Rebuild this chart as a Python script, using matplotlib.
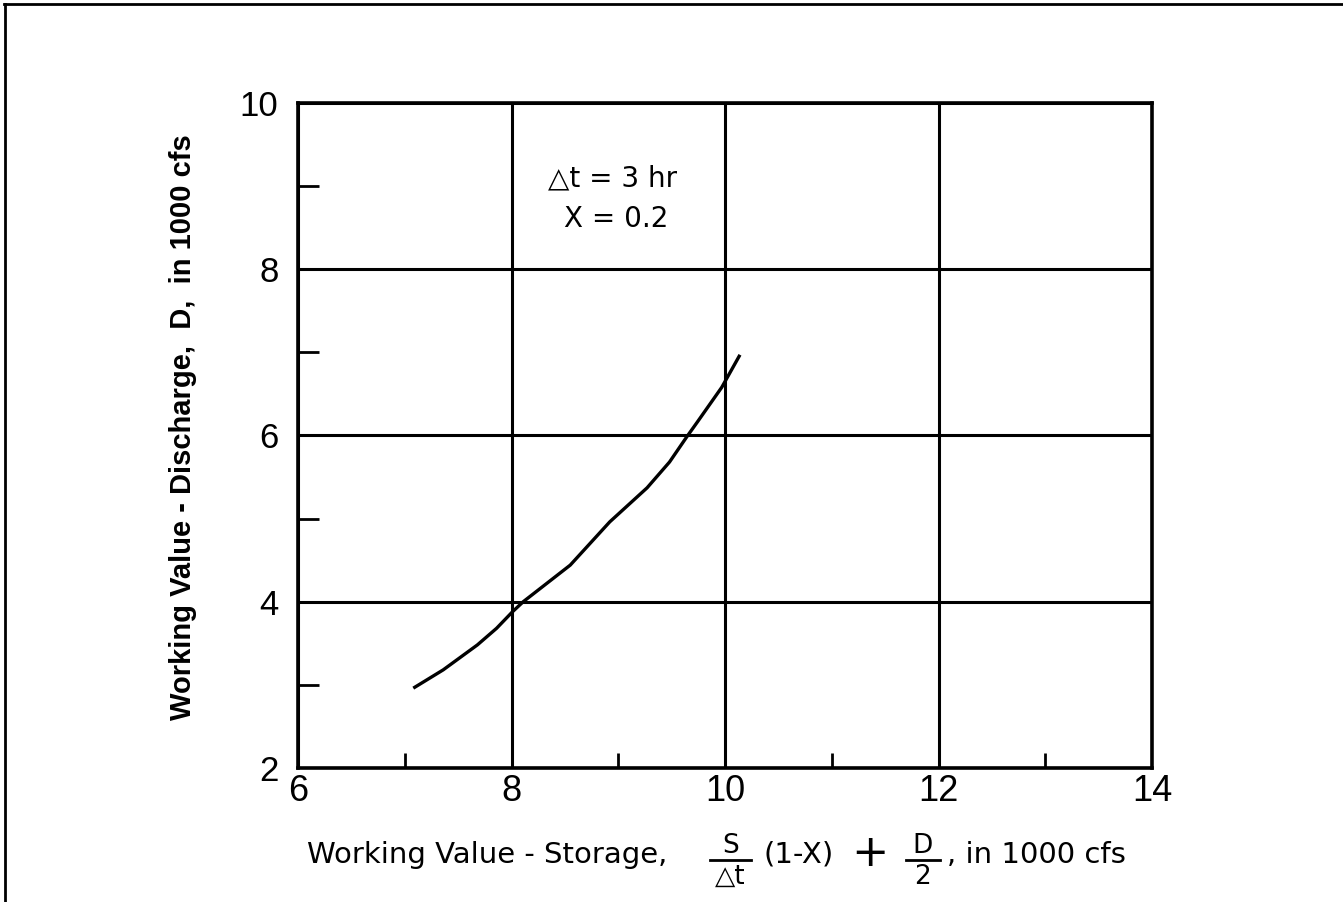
import matplotlib
matplotlib.use('Agg')
import matplotlib.pyplot as plt
from matplotlib.lines import Line2D
from matplotlib.ticker import MultipleLocator

# working-value curve (1000 cfs)
storage = [7.08, 7.36, 7.68, 7.86, 8.01, 8.11, 8.55, 8.92, 9.27, 9.48, 9.64, 9.74, 9.97, 10.14]
discharge = [2.96, 3.18, 3.48, 3.68, 3.88, 4.00, 4.44, 4.96, 5.37, 5.68, 5.98, 6.16, 6.58, 6.97]

x_ticks = [6, 8, 10, 12, 14]
y_ticks = [2, 4, 6, 8, 10]

note_lines = ['\u25b3t = 3 hr', 'X = 0.2']

sans = ['Liberation Sans', 'DejaVu Sans']
wide = ['DejaVu Sans']

fig = plt.figure(figsize=(13.43, 9.02), dpi=100)
ax = fig.add_axes([0.2219, 0.1486, 0.6359, 0.7373])

ax.plot(storage, discharge, color='black', linewidth=2.4, solid_capstyle='butt')

ax.set_xlim(6, 14)
ax.set_ylim(2, 10)
ax.set_xticks(x_ticks)
ax.set_yticks(y_ticks)
ax.xaxis.set_minor_locator(MultipleLocator(1))
ax.yaxis.set_minor_locator(MultipleLocator(1))
ax.grid(True, which='major', color='black', linewidth=2.2)
ax.set_axisbelow(False)

for s in ax.spines.values():
    s.set_linewidth(2.6)

ax.tick_params(which='major', length=0)
ax.tick_params(axis='x', which='major', pad=4)
ax.tick_params(axis='y', which='major', pad=14)
ax.tick_params(which='minor', direction='in', width=2, color='black')
ax.tick_params(axis='x', which='minor', length=11)
ax.tick_params(axis='y', which='minor', length=15)

for lab in ax.get_xticklabels():
    lab.set_family(sans)
    lab.set_fontsize(26)
for lab in ax.get_yticklabels():
    lab.set_family(sans)
    lab.set_fontsize(25)

ax.set_ylabel('Working Value - Discharge,  D,  in 1000 cfs', family=sans,
              fontsize=21, fontweight='bold')
ax.yaxis.set_label_coords(-0.118, 0.513)

# note in the upper left cell
ax.text(8.95, 9.09, note_lines[0], family=wide, fontsize=20, ha='center', va='center')
ax.text(8.98, 8.60, note_lines[1], family=wide, fontsize=20, ha='center', va='center')

# x label with fractions, placed in figure pixels
W, H = 1343.0, 902.0
def fx(px):
    return px / W
def fy(py):
    return 1 - py / H

lab_kw = dict(family=wide, fontsize=21, va='center')
frac_kw = dict(family=wide, fontsize=19, va='center', ha='center')
ymid = 855
fig.text(fx(307), fy(ymid), 'Working Value - Storage,', ha='left', **lab_kw)
fig.text(fx(731), fy(846), 'S', **frac_kw)
fig.add_artist(Line2D([fx(710), fx(751)], [fy(860), fy(860)], color='black', linewidth=2,
                      transform=fig.transFigure))
fig.text(fx(730), fy(877), '\u25b3t', **frac_kw)
fig.text(fx(764), fy(ymid), '(1-X)', ha='left', **lab_kw)
fig.text(fx(870), fy(ymid - 1), '+', ha='center', family=wide, fontsize=32, va='center')
fig.text(fx(922), fy(846), 'D', **frac_kw)
fig.add_artist(Line2D([fx(906), fx(940)], [fy(860), fy(860)], color='black', linewidth=2,
                      transform=fig.transFigure))
fig.text(fx(922), fy(877), '2', **frac_kw)
fig.text(fx(947), fy(ymid), ', in 1000 cfs', ha='left', **lab_kw)

# frame lines on the top and left edge of the figure
fig.add_artist(Line2D([fx(4), 1], [fy(4), fy(4)], color='black', linewidth=2,
                      transform=fig.transFigure))
fig.add_artist(Line2D([fx(5), fx(5)], [0, fy(4)], color='black', linewidth=2,
                      transform=fig.transFigure))

fig.savefig('out.png', dpi=100)
